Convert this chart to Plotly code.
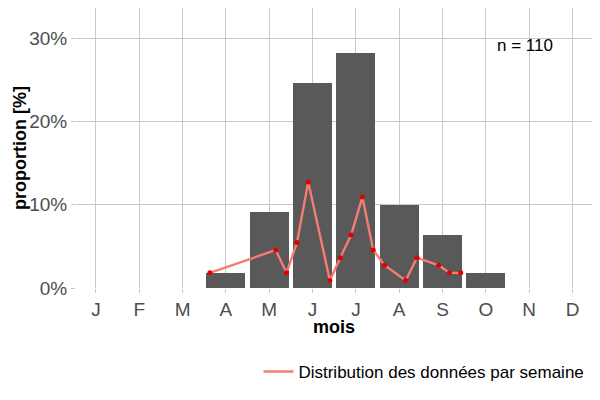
import plotly.graph_objects as go

# monthly proportions (bars)
mois = ["J", "F", "M", "A", "M", "J", "J", "A", "S", "O", "N", "D"]
mois_num = [1, 2, 3, 4, 5, 6, 7, 8, 9, 10, 11, 12]
prop_mois = [0, 0, 0, 0.0182, 0.0909, 0.2455, 0.2818, 0.100, 0.0636, 0.0182, 0, 0]

# weekly distribution (line), x expressed in months
semaine_x = [3.63, 5.15, 5.40, 5.64, 5.90, 6.40, 6.64, 6.89, 7.15, 7.40,
             7.66, 8.15, 8.41, 8.91, 9.16, 9.42]
semaine_prop = [0.0182, 0.0455, 0.0182, 0.0545, 0.1273, 0.0091, 0.0364, 0.0636,
                0.1091, 0.0455, 0.0273, 0.0091, 0.0364, 0.0273, 0.0182, 0.0182]

fig = go.Figure()
fig.add_trace(go.Bar(x=mois_num, y=prop_mois, width=0.9, marker_color="#595959",
                     marker_line_width=0, showlegend=False, hoverinfo="skip"))
fig.add_trace(go.Scatter(x=semaine_x, y=semaine_prop, mode="lines",
                         line=dict(color="#F47C74", width=2.4),
                         name="Distribution des données par semaine"))
fig.add_trace(go.Scatter(x=semaine_x, y=semaine_prop, mode="markers",
                         marker=dict(color="#E00000", size=5), showlegend=False))

fig.add_annotation(x=10.9, y=0.291, xref="x", yref="y", text="n = 110",
                   showarrow=False, font=dict(size=17, color="black"))
# axis titles
fig.add_annotation(x=0.5, y=0, xref="paper", yref="paper", text="<b>mois</b>",
                   showarrow=False, yanchor="middle", yshift=-39,
                   font=dict(size=18, color="black"))
fig.add_annotation(x=0, y=0.5, xref="paper", yref="paper", text="<b>proportion [%]</b>",
                   showarrow=False, textangle=-90, xanchor="center", xshift=-56,
                   font=dict(size=18, color="black"))

# the page adds an 8px offset, so margins are set 8px smaller on top/left
fig.update_layout(
    width=600, height=400,
    margin=dict(l=68, r=16, t=0, b=120, autoexpand=False),
    plot_bgcolor="white", paper_bgcolor="white",
    font=dict(family="Liberation Sans, Arial, sans-serif"),
    bargap=0,
    legend=dict(orientation="h", x=0.995, xanchor="right", y=-0.3, yanchor="middle",
                font=dict(size=17, color="black")),
)
fig.update_xaxes(
    range=[0.54, 12.45], tickvals=mois_num, ticktext=mois, automargin=False,
    showgrid=True, gridcolor="#C8C8C8", gridwidth=1, zeroline=False,
    ticks="outside", ticklen=4, tickcolor="#C8C8C8",
    tickfont=dict(size=19, color="#4D4D4D"),
)
fig.update_yaxes(
    range=[0, 0.336], tickvals=[0, 0.1, 0.2, 0.3], tickformat=".0%", automargin=False,
    showgrid=True, gridcolor="#C8C8C8", gridwidth=1, zeroline=False,
    ticks="outside", ticklen=4, tickcolor="#C8C8C8",
    tickfont=dict(size=19, color="#4D4D4D"),
)
fig.write_html("out.html")
